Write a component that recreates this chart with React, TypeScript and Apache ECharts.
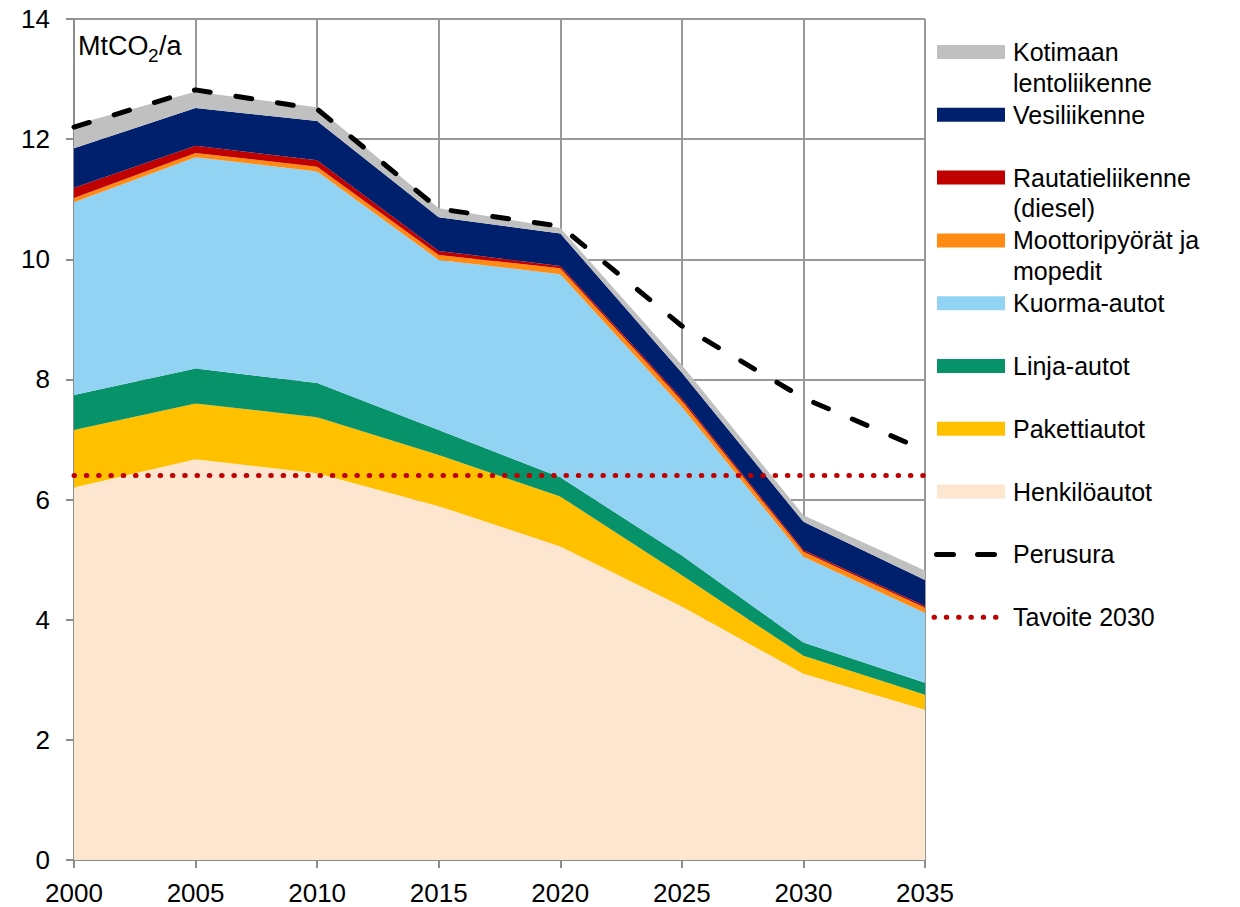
import React, { useEffect, useRef } from "react";
import * as echarts from "echarts";

// ---- Data (MtCO2/a) ----
const years = ["2000", "2005", "2010", "2015", "2020", "2025", "2030", "2035"];
const henkiloautot = [6.2, 6.67, 6.44, 5.89, 5.22, 4.22, 3.1, 2.5];
const pakettiautot = [0.96, 0.93, 0.93, 0.85, 0.83, 0.52, 0.3, 0.25];
const linjaautot = [0.58, 0.58, 0.57, 0.42, 0.32, 0.33, 0.22, 0.2];
const kuormaautot = [3.21, 3.52, 3.52, 2.83, 3.38, 2.47, 1.43, 1.16];
const moottoripyorat = [0.07, 0.07, 0.08, 0.08, 0.1, 0.1, 0.08, 0.09];
const rautatieliikenne = [0.17, 0.12, 0.11, 0.07, 0.04, 0.04, 0.03, 0.03];
const vesiliikenne = [0.66, 0.63, 0.65, 0.56, 0.54, 0.43, 0.47, 0.43];
const kotimaanLento = [0.39, 0.27, 0.23, 0.15, 0.09, 0.13, 0.11, 0.16];
const perusura = [12.2, 12.82, 12.5, 10.84, 10.55, 8.89, 7.69, 6.82];
const tavoite2030 = [6.4, 6.4, 6.4, 6.4, 6.4, 6.4, 6.4, 6.4];

const seriesNames = [
  "Henkilöautot",
  "Pakettiautot",
  "Linja-autot",
  "Kuorma-autot",
  "Moottoripyörät ja mopedit",
  "Rautatieliikenne (diesel)",
  "Vesiliikenne",
  "Kotimaan lentoliikenne",
];
const seriesColors = [
  "#FDE6D0",
  "#FFC000",
  "#07926A",
  "#92D3F4",
  "#FF8A14",
  "#C00000",
  "#001F6D",
  "#C0C0C0",
];
const stackData = [
  henkiloautot,
  pakettiautot,
  linjaautot,
  kuormaautot,
  moottoripyorat,
  rautatieliikenne,
  vesiliikenne,
  kotimaanLento,
];

// Legend (top to bottom) with line breaks as in the original
const legendItems = [
  { lines: ["Kotimaan", "lentoliikenne"], kind: "area", color: "#C0C0C0" },
  { lines: ["Vesiliikenne"], kind: "area", color: "#001F6D" },
  { lines: ["Rautatieliikenne", "(diesel)"], kind: "area", color: "#C00000" },
  { lines: ["Moottoripyörät ja", "mopedit"], kind: "area", color: "#FF8A14" },
  { lines: ["Kuorma-autot"], kind: "area", color: "#92D3F4" },
  { lines: ["Linja-autot"], kind: "area", color: "#07926A" },
  { lines: ["Pakettiautot"], kind: "area", color: "#FFC000" },
  { lines: ["Henkilöautot"], kind: "area", color: "#FDE6D0" },
  { lines: ["Perusura"], kind: "dash", color: "#000000" },
  { lines: ["Tavoite 2030"], kind: "dot", color: "#C00000" },
];

const FONT = '"Liberation Sans", Arial, sans-serif';

export default function App() {
  const ref = useRef<HTMLDivElement>(null);

  useEffect(() => {
    if (!ref.current) return;
    const chart = echarts.init(ref.current, null, { renderer: "svg" });

    const legendGraphics: any[] = [];
    legendItems.forEach((item, i) => {
      const cy = 52 + i * 62.8;
      if (item.kind === "area") {
        legendGraphics.push({
          type: "rect",
          shape: { x: 937, y: cy - 7, width: 68, height: 14 },
          style: { fill: item.color },
        });
      } else if (item.kind === "dash") {
        legendGraphics.push({
          type: "line",
          shape: { x1: 936.5, y1: cy, x2: 1000, y2: cy },
          style: { stroke: item.color, lineWidth: 5, lineDash: [17, 24], lineCap: "round" },
        });
      } else {
        legendGraphics.push({
          type: "line",
          shape: { x1: 934, y1: cy, x2: 1000, y2: cy },
          style: { stroke: item.color, lineWidth: 5, lineDash: [0.5, 11.8], lineCap: "round" },
        });
      }
      item.lines.forEach((ln, j) => {
        legendGraphics.push({
          type: "text",
          x: 1013,
          y: cy + j * 30.5,
          style: {
            text: ln,
            fill: "#000",
            fontSize: 25,
            fontFamily: FONT,
            align: "left",
            verticalAlign: "middle",
          },
        });
      });
    });

    const unitGraphics = [
      {
        type: "text",
        x: 78,
        y: 46,
        style: { text: "MtCO", fill: "#000", fontSize: 27, fontFamily: FONT, verticalAlign: "middle" },
      },
      {
        type: "text",
        x: 148,
        y: 55,
        style: { text: "2", fill: "#000", fontSize: 19, fontFamily: FONT, verticalAlign: "middle" },
      },
      {
        type: "text",
        x: 159,
        y: 46,
        style: { text: "/a", fill: "#000", fontSize: 27, fontFamily: FONT, verticalAlign: "middle" },
      },
    ];

    const areaSeries = stackData.map((d, i) => ({
      name: seriesNames[i],
      type: "line",
      stack: "total",
      data: d,
      symbol: "none",
      showSymbol: false,
      lineStyle: { width: 0, opacity: 0 },
      itemStyle: { color: seriesColors[i] },
      areaStyle: { color: seriesColors[i], opacity: 1 },
      z: 2,
    }));

    const option: any = {
      animation: false,
      grid: { left: 74, top: 19, right: 315, bottom: 47, containLabel: false },
      xAxis: {
        type: "category",
        data: years,
        boundaryGap: false,
        axisLine: { show: true, lineStyle: { color: "#8C8C8C", width: 2 } },
        axisTick: { show: true, length: 8, lineStyle: { color: "#8C8C8C", width: 2 } },
        axisLabel: { color: "#000", fontSize: 26, fontFamily: FONT, margin: 20 },
        splitLine: { show: true, lineStyle: { color: "#999999", width: 2 } },
      },
      yAxis: {
        type: "value",
        min: 0,
        max: 14,
        interval: 2,
        axisLine: { show: true, lineStyle: { color: "#8C8C8C", width: 2 } },
        axisTick: { show: true, length: 8, lineStyle: { color: "#8C8C8C", width: 2 } },
        axisLabel: { color: "#000", fontSize: 26, fontFamily: FONT, margin: 24 },
        splitLine: { show: true, lineStyle: { color: "#999999", width: 2 } },
      },
      series: [
        ...areaSeries,
        {
          name: "Tavoite 2030",
          type: "line",
          data: tavoite2030,
          symbol: "none",
          showSymbol: false,
          lineStyle: { color: "#C00000", width: 5, type: [0.5, 11.8], cap: "round" },
          z: 5,
        },
        {
          name: "Perusura",
          type: "line",
          data: perusura,
          symbol: "none",
          showSymbol: false,
          lineStyle: { color: "#000", width: 5, type: [16, 26], cap: "round", join: "round" },
          z: 6,
        },
      ],
      graphic: [...unitGraphics, ...legendGraphics],
    };

    chart.setOption(option);
    return () => chart.dispose();
  }, []);

  return (
    <div
      ref={ref}
      style={{ position: "fixed", left: 0, top: 0, width: 1240, height: 907, background: "#fff" }}
    />
  );
}
